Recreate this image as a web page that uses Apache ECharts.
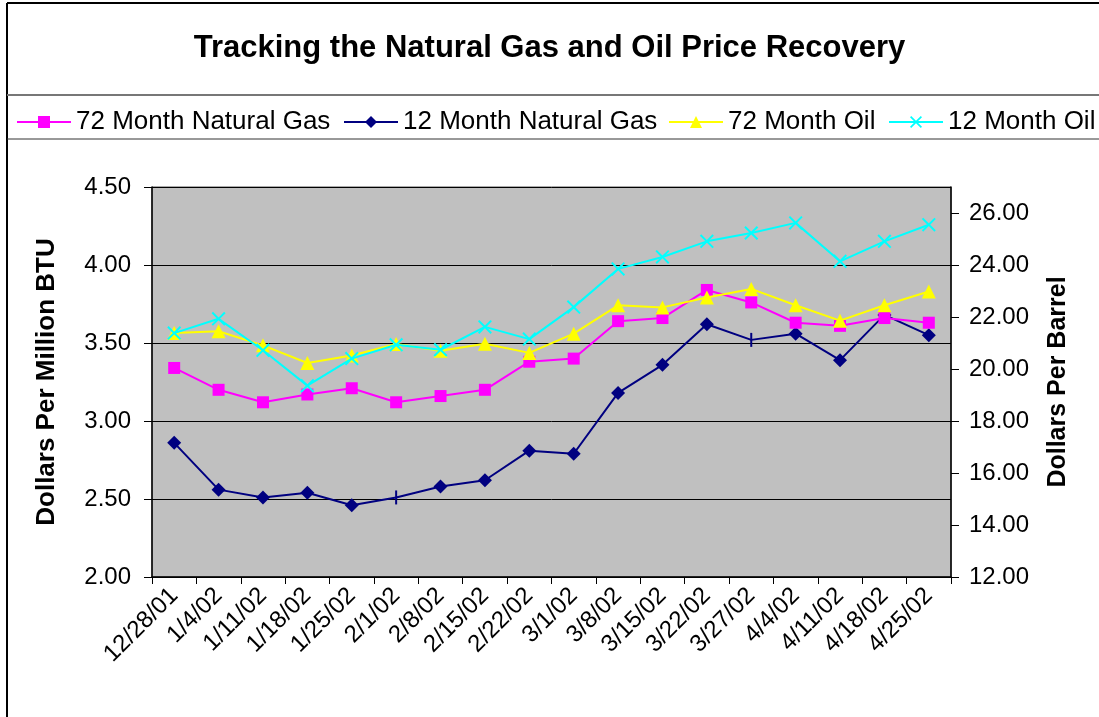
<!DOCTYPE html>
<html lang="en">
<head>
    <meta charset="UTF-8">
    <title>Tracking the Natural Gas and Oil Price Recovery</title>
    <style>
        html, body { margin: 0; padding: 0; background: #fff; }
        .box { width: 1099px; height: 717px; }
    </style>
</head>
<body>
    <div class="box"></div>
    <script src="https://cdn.jsdelivr.net/npm/echarts@6/dist/echarts.min.js"></script>
    <script>
        // data
        var dates = ['12/28/01', '1/4/02', '1/11/02', '1/18/02', '1/25/02', '2/1/02', '2/8/02', '2/15/02', '2/22/02',
            '3/1/02', '3/8/02', '3/15/02', '3/22/02', '3/27/02', '4/4/02', '4/11/02', '4/18/02', '4/25/02'];
        var gas72 = [3.34, 3.20, 3.12, 3.17, 3.21, 3.12, 3.16, 3.20, 3.38, 3.40, 3.64, 3.66, 3.84, 3.76, 3.63, 3.61, 3.66, 3.63];
        var gas12 = [2.86, 2.56, 2.51, 2.54, 2.46, 2.51, 2.58, 2.62, 2.81, 2.79, 3.18, 3.36, 3.62, 3.52, 3.56, 3.39, 3.68, 3.55];
        var oil72 = [21.38, 21.45, 20.91, 20.23, 20.52, 20.96, 20.70, 20.97, 20.62, 21.36, 22.45, 22.37, 22.75, 23.08, 22.45, 21.86, 22.45, 22.98];
        var oil12 = [21.38, 21.93, 20.72, 19.36, 20.40, 20.93, 20.74, 21.62, 21.15, 22.38, 23.85, 24.31, 24.91, 25.23, 25.62, 24.14, 24.91, 25.55];
        var seriesNames = ['72 Month Natural Gas', '12 Month Natural Gas', '72 Month Oil', '12 Month Oil'];
        // points where the 12 month gas marker is drawn as a bar instead of a diamond
        var gas12Dashes = [5, 13];

        var font = 'Liberation Sans, Arial, sans-serif';
        var xMark = 'path://M0,1 L1,0 L5,4 L9,0 L10,1 L6,5 L10,9 L9,10 L5,6 L1,10 L0,9 L4,5 Z';

        var myChart = echarts.init(document.getElementsByClassName('box')[0]);

        // one legend per item so each sits where it does in the original
        var legendLeft = [16, 343, 668, 888];
        var legends = seriesNames.map(function (name, i) {
            return {
                left: legendLeft[i],
                top: 109,
                padding: 0,
                itemWidth: 54,
                itemHeight: 15,
                textStyle: { fontSize: 26, color: '#000', fontFamily: font },
                data: [name]
            };
        });

        var option = {
            animation: false,
            backgroundColor: '#fff',
            textStyle: { fontFamily: font },
            title: {
                text: 'Tracking the Natural Gas and Oil Price Recovery',
                left: 'center',
                top: 28,
                textStyle: { fontSize: 31, fontWeight: 'bold', color: '#000', fontFamily: font }
            },
            legend: legends,
            grid: {
                left: 152,
                right: 148,
                top: 187,
                bottom: 140,
                show: true,
                backgroundColor: '#c0c0c0',
                borderColor: '#555',
                borderWidth: 1
            },
            xAxis: {
                type: 'category',
                data: dates,
                boundaryGap: true,
                axisLine: { lineStyle: { color: '#000', width: 1.5 } },
                axisTick: { show: true, length: 7, lineStyle: { color: '#000' } },
                axisLabel: { rotate: 45, fontSize: 24, color: '#000', margin: 15, interval: 0 }
            },
            yAxis: [
                {
                    type: 'value',
                    min: 2,
                    max: 4.5,
                    interval: 0.5,
                    position: 'left',
                    name: 'Dollars Per Million BTU',
                    nameLocation: 'middle',
                    nameRotate: 90,
                    nameGap: 92,
                    nameTextStyle: { fontSize: 26, fontWeight: 'bold', color: '#000' },
                    axisLine: { show: true, lineStyle: { color: '#000', width: 1.5 } },
                    axisTick: { show: true, length: 8, lineStyle: { color: '#000' } },
                    axisLabel: { fontSize: 24, color: '#000', margin: 21, formatter: function (v) { return v.toFixed(2); } },
                    splitLine: { show: true, lineStyle: { color: '#000', width: 1 } }
                },
                {
                    type: 'value',
                    min: 12,
                    max: 27,
                    interval: 2,
                    position: 'right',
                    name: 'Dollars Per Barrel',
                    nameLocation: 'middle',
                    nameRotate: 90,
                    nameGap: 95,
                    nameTextStyle: { fontSize: 25, fontWeight: 'bold', color: '#000' },
                    axisLine: { show: true, lineStyle: { color: '#000', width: 1.5 } },
                    axisTick: { show: true, length: 8, lineStyle: { color: '#000' } },
                    axisLabel: { fontSize: 24, color: '#000', margin: 18, showMaxLabel: false, formatter: function (v) { return v.toFixed(2); } },
                    splitLine: { show: false }
                }
            ],
            series: [
                {
                    name: seriesNames[0],
                    type: 'line',
                    yAxisIndex: 0,
                    data: gas72,
                    symbol: 'rect',
                    symbolSize: 12,
                    itemStyle: { color: '#ff00ff' },
                    lineStyle: { color: '#ff00ff', width: 2 },
                    z: 3
                },
                {
                    name: seriesNames[1],
                    type: 'line',
                    yAxisIndex: 0,
                    data: gas12.map(function (v, i) {
                        if (gas12Dashes.indexOf(i) >= 0) {
                            return { value: v, symbol: 'rect', symbolSize: [2, 14] };
                        }
                        return v;
                    }),
                    symbol: 'diamond',
                    symbolSize: 14,
                    itemStyle: { color: '#000080' },
                    lineStyle: { color: '#000080', width: 2 },
                    z: 2
                },
                {
                    name: seriesNames[2],
                    type: 'line',
                    yAxisIndex: 1,
                    data: oil72,
                    symbol: 'triangle',
                    symbolSize: 14,
                    itemStyle: { color: '#ffff00' },
                    lineStyle: { color: '#ffff00', width: 2 },
                    z: 4
                },
                {
                    name: seriesNames[3],
                    type: 'line',
                    yAxisIndex: 1,
                    data: oil12,
                    symbol: xMark,
                    symbolSize: 14,
                    itemStyle: { color: '#00ffff' },
                    lineStyle: { color: '#00ffff', width: 2 },
                    z: 5
                }
            ],
            graphic: [
                { type: 'line', shape: { x1: 7, y1: 3, x2: 7, y2: 717 }, style: { stroke: '#000', lineWidth: 2 } },
                { type: 'line', shape: { x1: 7, y1: 3, x2: 1099, y2: 3 }, style: { stroke: '#000', lineWidth: 2 } },
                { type: 'line', shape: { x1: 7, y1: 95, x2: 1099, y2: 95 }, style: { stroke: '#777', lineWidth: 2 } },
                { type: 'line', shape: { x1: 7, y1: 139, x2: 1099, y2: 139 }, style: { stroke: '#333', lineWidth: 1 } }
            ]
        };
        myChart.setOption(option);
    </script>
</body>
</html>
